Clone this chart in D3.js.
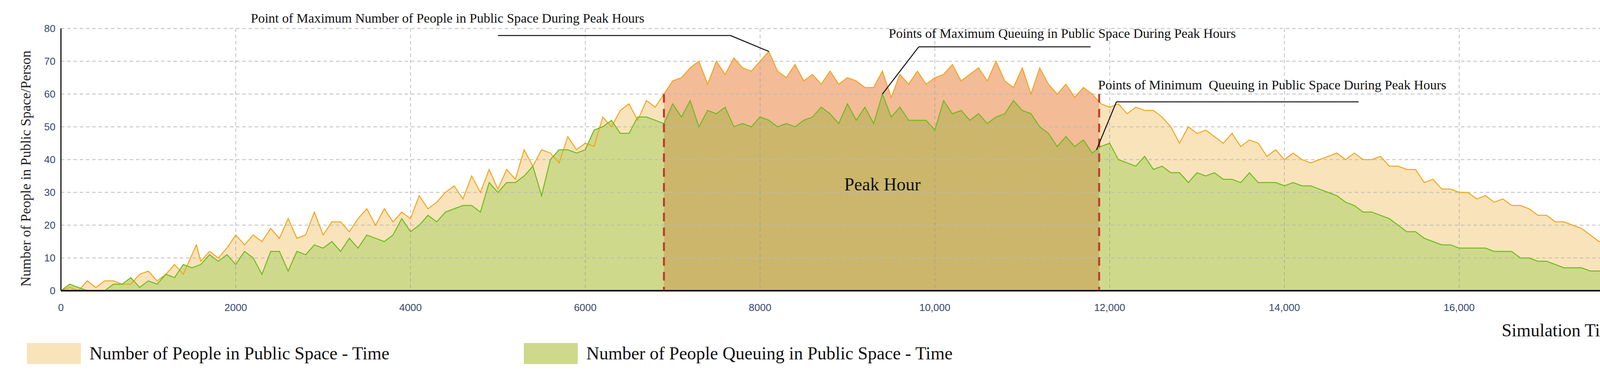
<!DOCTYPE html>
<html>
<head>
<meta charset="utf-8">
<script src="https://cdn.jsdelivr.net/npm/d3@7"></script>
<style>
  body { margin: 0; background: #fff; }
  svg text { font-family: "Liberation Serif", serif; }
</style>
</head>
<body>
<svg id="chart" width="4266" height="961"></svg>
<script>
// total people in public space (time in s, count)
const peopleTime = [0,100,200,300,400,500,600,700,800,900,1000,1100,1200,1300,1400,1500,1550,1600,1700,1800,1900,2000,2100,2200,2300,2400,2500,2600,2700,2800,2900,3000,3100,3200,3300,3400,3500,3600,3700,3800,3900,4000,4100,4200,4300,4400,4500,4600,4700,4800,4900,5000,5100,5200,5300,5400,5500,5600,5700,5800,5900,6000,6100,6200,6300,6400,6500,6600,6700,6800,6900,7000,7100,7200,7300,7400,7500,7600,7700,7800,7900,8000,8100,8200,8300,8400,8500,8600,8700,8800,8900,9000,9100,9200,9300,9400,9500,9600,9700,9800,9900,10000,10100,10200,10300,10400,10500,10600,10700,10800,10900,11000,11100,11200,11300,11400,11500,11600,11700,11800,11900,12000,12100,12200,12300,12400,12500,12600,12700,12800,12900,13000,13100,13200,13300,13400,13500,13600,13700,13800,13900,14000,14100,14200,14300,14400,14500,14600,14700,14800,14900,15000,15100,15200,15300,15400,15500,15600,15700,15800,15900,16000,16100,16200,16300,16400,16500,16600,16700,16800,16900,17000,17100,17200,17300,17400,17500,17600,17700,17800,17900,18000];
const peopleVal  = [0,1,0,3,1,3,3,2,2,5,6,3,5,8,5,11,14,9,12,10,13,17,14,17,15,19,16,22,16,17,24,17,21,21,18,22,25,20,25,21,24,22,29,25,27,30,32,28,35,30,37,31,37,34,43,38,43,42,39,47,43,45,44,53,50,55,57,52,58,56,60,64,65,68,70,63,70,66,71,68,67,70,73,67,65,69,64,66,63,67,63,65,64,62,62,67,59,66,63,67,63,65,66,69,64,66,68,64,70,64,62,68,60,68,63,60,63,59,62,60,57,56,57,54,56,55,55,53,50,45,50,48,49,47,45,48,44,46,45,41,43,40,42,40,39,40,41,42,40,42,40,40,41,38,38,37,37,33,34,31,31,30,30,28,29,27,28,26,26,25,23,23,21,21,20,19,17,15,15,14,12,11];
// people queuing in public space
const queueTime = [0,100,200,300,400,500,600,700,800,900,1000,1100,1200,1300,1400,1500,1600,1700,1800,1900,2000,2100,2200,2300,2400,2500,2600,2700,2800,2900,3000,3100,3200,3300,3400,3500,3600,3700,3800,3900,4000,4100,4200,4300,4400,4500,4600,4700,4800,4900,5000,5100,5200,5300,5400,5500,5600,5700,5800,5900,6000,6100,6200,6300,6400,6500,6600,6700,6800,6900,7000,7100,7200,7300,7400,7500,7600,7700,7800,7900,8000,8100,8200,8300,8400,8500,8600,8700,8800,8900,9000,9100,9200,9300,9400,9500,9600,9700,9800,9900,10000,10100,10200,10300,10400,10500,10600,10700,10800,10900,11000,11100,11200,11300,11400,11500,11600,11700,11800,11900,12000,12100,12200,12300,12400,12500,12600,12700,12800,12900,13000,13100,13200,13300,13400,13500,13600,13700,13800,13900,14000,14100,14200,14300,14400,14500,14600,14700,14800,14900,15000,15100,15200,15300,15400,15500,15600,15700,15800,15900,16000,16100,16200,16300,16400,16500,16600,16700,16800,16900,17000,17100,17200,17300,17400,17500,17600,17700,17800,17900,18000];
const queueVal  = [0,2,1,0,0,0,2,2,4,1,3,2,5,4,8,7,8,11,9,11,8,12,10,5,12,12,6,12,11,14,13,15,12,16,13,17,16,15,17,22,18,20,23,21,24,25,26,26,24,33,30,33,33,35,38,29,40,43,43,42,43,49,50,52,48,48,53,53,52,51,57,53,58,50,55,54,56,50,51,50,53,52,50,51,50,52,53,56,54,51,57,52,56,51,60,53,56,52,52,52,49,58,54,55,52,54,51,53,54,58,55,54,50,48,44,47,44,46,42,44,45,40,39,38,41,37,38,36,36,33,36,35,36,34,34,33,36,33,33,33,32,33,32,32,31,30,29,27,26,24,24,23,22,20,18,18,16,15,14,14,13,13,13,13,12,12,12,10,10,9,9,8,7,7,7,6,6,5,5,4,4];

const peakStart = 6900, peakEnd = 11880;
const yTicks = [0,10,20,30,40,50,60,70,80];
const xTicks = [0,2000,4000,6000,8000,10000,12000,14000,16000,18000];
const xTickLabels = ["0","2000","4000","6000","8000","10,000","12,000","14,000","16,000","18,000"];
const legendLabels = ["Number of People in Public Space - Time", "Number of People Queuing in Public Space - Time"];

const svg = d3.select("#chart");
const plotLeft = 156, plotRight = 4183, plotTop = 73, plotBottom = 745;

const x = d3.scaleLinear().domain([0, 18000]).range([plotLeft, plotRight]);
const y = d3.scaleLinear().domain([0, 80]).range([plotBottom, plotTop]);

const people = peopleTime.map((t, i) => [t, peopleVal[i]]);
const queue = queueTime.map((t, i) => [t, queueVal[i]]);

const area = d3.area().x(d => x(d[0])).y0(y(0)).y1(d => y(d[1]));
const line = d3.line().x(d => x(d[0])).y(d => y(d[1]));

svg.append("clipPath").attr("id", "peak")
	.append("rect")
	.attr("x", x(peakStart)).attr("y", plotTop)
	.attr("width", x(peakEnd) - x(peakStart)).attr("height", plotBottom - plotTop);

svg.append("path").datum(people).attr("d", area).attr("fill", "#f9e3bb");
svg.append("path").datum(people).attr("d", area).attr("fill", "#f3bb96").attr("clip-path", "url(#peak)");
svg.append("path").datum(queue).attr("d", area).attr("fill", "#cfd98b");
svg.append("path").datum(queue).attr("d", area).attr("fill", "#cbb66c").attr("clip-path", "url(#peak)");

// grid
svg.append("g").selectAll("line").data(yTicks.slice(1)).join("line")
	.attr("x1", plotLeft).attr("x2", plotRight).attr("y1", d => y(d)).attr("y2", d => y(d))
	.attr("stroke", "#bbb").attr("stroke-width", 2.5).attr("stroke-dasharray", "9,7").attr("opacity", 0.8);
svg.append("g").selectAll("line").data(xTicks.slice(1)).join("line")
	.attr("x1", d => x(d)).attr("x2", d => x(d)).attr("y1", plotTop).attr("y2", plotBottom)
	.attr("stroke", "#999").attr("stroke-width", 1.5).attr("stroke-dasharray", "9,7").attr("opacity", 0.8);

svg.append("path").datum(people).attr("d", line).attr("fill", "none").attr("stroke", "#f0a51e").attr("stroke-width", 2.5);
svg.append("path").datum(queue).attr("d", line).attr("fill", "none").attr("stroke", "#6cbb1c").attr("stroke-width", 2.5);

// peak hour dashed markers
[peakStart, peakEnd].forEach(t => {
	svg.append("line").attr("x1", x(t)).attr("x2", x(t)).attr("y1", y(60)).attr("y2", plotBottom)
		.attr("stroke", "#c0392b").attr("stroke-width", 5).attr("stroke-dasharray", "22,16");
});

// axes
svg.append("line").attr("x1", plotLeft).attr("x2", plotRight).attr("y1", plotBottom).attr("y2", plotBottom).attr("stroke", "#111").attr("stroke-width", 4);
svg.append("line").attr("x1", plotLeft).attr("x2", plotLeft).attr("y1", plotTop).attr("y2", plotBottom).attr("stroke", "#111").attr("stroke-width", 3);

svg.append("g").selectAll("text").data(yTicks).join("text")
	.attr("x", plotLeft - 14).attr("y", d => y(d) + 9).attr("text-anchor", "end")
	.style("font-family", "Liberation Sans, sans-serif").attr("font-size", 26).attr("fill", "#34466e")
	.text(d => d);
svg.append("g").selectAll("text").data(xTicks).join("text")
	.attr("x", d => x(d)).attr("y", 797).attr("text-anchor", "middle")
	.style("font-family", "Liberation Sans, sans-serif").attr("font-size", 26).attr("fill", "#34466e")
	.text((d, i) => xTickLabels[i]);

svg.append("text").attr("transform", "translate(78,432) rotate(-90)").attr("text-anchor", "middle")
	.attr("font-size", 36).attr("fill", "#222").text("Number of People in Public Space/Person");
svg.append("text").attr("x", plotRight).attr("y", 862).attr("text-anchor", "end")
	.attr("font-size", 46).attr("fill", "#111").text("Simulation Time/s");

svg.append("text").attr("x", x(9400)).attr("y", 488).attr("text-anchor", "middle")
	.attr("font-size", 46).attr("fill", "#111").text("Peak Hour");

// annotations
const notes = [
	{ text: "Point of Maximum Number of People in Public Space During Peak Hours", tx: 642, ty: 58, lx1: 1275, lx2: 1870, ly: 91, px: 8100, pv: 73 },
	{ text: "Points of Maximum Queuing in Public Space During Peak Hours", tx: 2275, ty: 97, lx1: 2352, lx2: 2792, ly: 120, px: 9400, pv: 60 },
	{ text: "Points of Minimum  Queuing in Public Space During Peak Hours", tx: 2811, ty: 229, lx1: 2858, lx2: 3478, ly: 261, px: 11850, pv: 43 }
];
notes.forEach((n, i) => {
	svg.append("text").attr("x", n.tx).attr("y", n.ty).attr("font-size", 34).attr("fill", "#111")
		.style("white-space", "pre").text(n.text);
	const corner = i === 0 ? n.lx2 : n.lx1;
	svg.append("path")
		.attr("d", `M${n.lx1},${n.ly}H${n.lx2}M${corner},${n.ly}L${x(n.px)},${y(n.pv)}`)
		.attr("fill", "none").attr("stroke", "#111").attr("stroke-width", 2.5);
});

// legend
const legendColors = ["#f9e3bb", "#cfd98b"];
const legendX = [69, 1341];
legendLabels.forEach((lab, i) => {
	svg.append("rect").attr("x", legendX[i]).attr("y", 879).attr("width", 138).attr("height", 54).attr("fill", legendColors[i]);
	svg.append("text").attr("x", legendX[i] + 160).attr("y", 921).attr("font-size", 46).attr("fill", "#111").text(lab);
});
</script>
</body>
</html>
